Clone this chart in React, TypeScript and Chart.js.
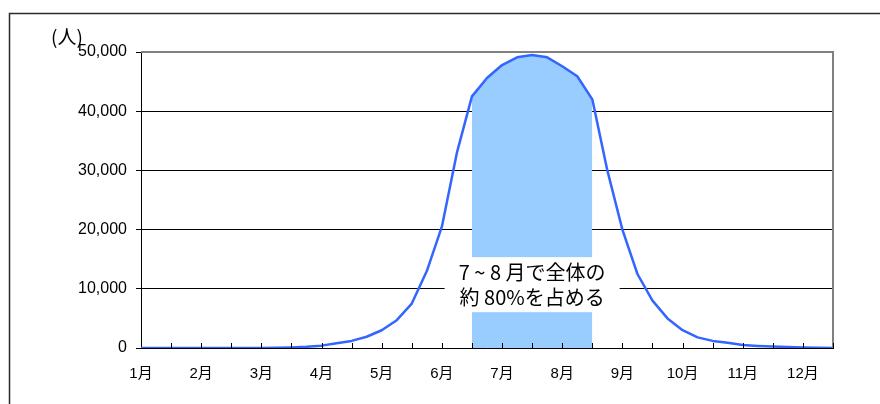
import React, { useEffect, useRef } from 'react';
import { Chart, registerables } from 'chart.js';

Chart.register(...registerables);

// Month labels shown on every second half-month tick
const monthLabels = ['1月', '2月', '3月', '4月', '5月', '6月', '7月', '8月', '9月', '10月', '11月', '12月'];

// Visitors per quarter-month step (index k sits at half-month position k / 2)
const visitors = [
  0, 0, 0, 0, 0, 0, 0, 0, 20, 50,
  100, 200, 400, 800, 1200, 1900, 3000, 4700, 7500, 13000,
  20500, 33000, 42500, 45600, 47800, 49100, 49500, 49100, 47600, 45900,
  42000, 30000, 20000, 12500, 8000, 5000, 3000, 1800, 1200, 900,
  500, 350, 250, 150, 100, 50, 0,
];

// Shaded stretch (July–August) as indices into visitors
const highlightFrom = 22;
const highlightTo = 30;

const yTicks = [0, 10000, 20000, 30000, 40000, 50000];
const unitLabel = '(人)';
const noteLines = ['7 ~ 8 月で全体の', '約 80%を占める'];

const LATIN = "'Liberation Sans', Arial, 'Noto Sans CJK JP', sans-serif";
const JP = "'Noto Sans CJK JP', 'Liberation Sans', sans-serif";

const framePlugin = {
  id: 'framePlugin',
  beforeDraw(chart: any) {
    const { ctx } = chart;
    ctx.save();
    ctx.strokeStyle = '#2a2a2a';
    ctx.lineWidth = 1.5;
    ctx.beginPath();
    ctx.moveTo(9.5, 404);
    ctx.lineTo(9.5, 13.5);
    ctx.lineTo(880, 13.5);
    ctx.stroke();
    ctx.fillStyle = '#000';
    ctx.font = `19px ${JP}`;
    ctx.textAlign = 'center';
    ctx.textBaseline = 'middle';
    ctx.fillText(unitLabel, 67, 37);
    ctx.restore();
  },
  afterDatasetsDraw(chart: any) {
    const { ctx, chartArea, scales } = chart;
    const x = scales.x;
    const y = scales.y;
    ctx.save();
    // plot frame: grey top and right edges
    ctx.strokeStyle = '#808080';
    ctx.lineWidth = 2;
    ctx.beginPath();
    ctx.moveTo(chartArea.left, chartArea.top);
    ctx.lineTo(chartArea.right, chartArea.top);
    ctx.lineTo(chartArea.right, chartArea.bottom);
    ctx.stroke();
    // inward tick marks on the category axis
    ctx.strokeStyle = '#000';
    ctx.lineWidth = 1;
    ctx.beginPath();
    for (let t = 1; t <= 23; t++) {
      const px = Math.round(x.getPixelForValue(t)) + 0.5;
      ctx.moveTo(px, chartArea.bottom);
      ctx.lineTo(px, chartArea.bottom - 5);
    }
    ctx.stroke();
    // note box
    const cx = x.getPixelForValue(13);
    const cy = y.getPixelForValue(10700);
    const w = 175;
    const h = 55;
    ctx.fillStyle = '#fff';
    ctx.fillRect(cx - w / 2, cy - h / 2, w, h);
    ctx.fillStyle = '#000';
    ctx.font = `20px ${JP}`;
    ctx.textAlign = 'center';
    ctx.textBaseline = 'middle';
    ctx.fillText(noteLines[0], cx, cy - 12);
    ctx.fillText(noteLines[1], cx, cy + 13);
    ctx.restore();
  },
};

export default function App() {
  const ref = useRef<HTMLCanvasElement>(null);

  useEffect(() => {
    document.body.style.margin = '0';
    const points = visitors.map((v, k) => ({ x: k / 2, y: v }));
    const chart = new Chart(ref.current as HTMLCanvasElement, {
      type: 'line',
      data: {
        datasets: [
          {
            data: points,
            borderColor: '#3366ff',
            borderWidth: 2.5,
            borderJoinStyle: 'round',
            pointRadius: 0,
            tension: 0,
            fill: false,
            order: 0,
          },
          {
            data: points.slice(highlightFrom, highlightTo + 1),
            borderWidth: 0,
            borderColor: 'rgba(0,0,0,0)',
            backgroundColor: '#99ccff',
            pointRadius: 0,
            tension: 0,
            fill: 'origin',
            order: 1,
          },
        ],
      },
      options: {
        responsive: false,
        animation: false,
        events: [],
        layout: { padding: { left: 0, top: 52, right: 47, bottom: 0 } },
        plugins: { legend: { display: false }, tooltip: { enabled: false } },
        scales: {
          x: {
            type: 'linear',
            min: 0,
            max: 23,
            grid: { display: false },
            border: { display: true, color: '#000', width: 1 },
            afterFit: (s: any) => {
              s.height = 56;
            },
            afterBuildTicks: (s: any) => {
              s.ticks = Array.from({ length: 24 }, (_, i) => ({ value: i }));
            },
            ticks: {
              autoSkip: false,
              maxRotation: 0,
              padding: 9,
              color: '#000',
              font: { family: LATIN, size: 15 },
              callback: (v: any) => (v % 2 === 0 ? monthLabels[v / 2] : ''),
            },
          },
          y: {
            min: 0,
            max: 50000,
            afterFit: (s: any) => {
              s.width = 141;
            },
            afterBuildTicks: (s: any) => {
              s.ticks = yTicks.map((value) => ({ value }));
            },
            grid: { color: '#000', lineWidth: 1, tickLength: 5, drawTicks: true },
            border: { display: true, color: '#000', width: 1 },
            ticks: {
              padding: 9,
              color: '#000',
              font: { family: LATIN, size: 16 },
              callback: (v: any) => Number(v).toLocaleString('en-US'),
            },
          },
        },
      },
      plugins: [framePlugin],
    });
    return () => chart.destroy();
  }, []);

  return (
    <div style={{ position: 'fixed', left: 0, top: 0, width: 880, height: 404, background: '#fff' }}>
      <canvas ref={ref} width={880} height={404} />
    </div>
  );
}
